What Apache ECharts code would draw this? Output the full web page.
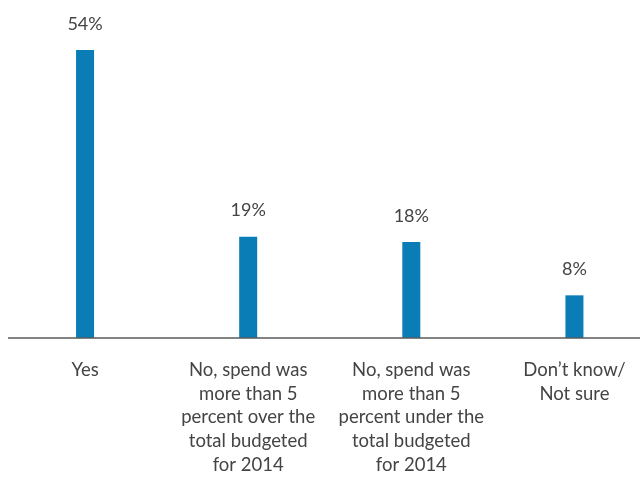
<!DOCTYPE html>
<html>
<head>
<meta charset="utf-8">
<script src="https://cdn.jsdelivr.net/npm/echarts@6/dist/echarts.min.js"></script>
<style>
html,body{margin:0;padding:0;background:#fff;overflow:hidden;}
#chart{width:656px;height:478px;}
</style>
</head>
<body>
<div id="chart"></div>
<script>
// Survey answers and their shares (percent)
var categories = [
  'Yes',
  'No, spend was\nmore than 5\npercent over the\ntotal budgeted\nfor 2014',
  'No, spend was\nmore than 5\npercent under the\ntotal budgeted\nfor 2014',
  'Don\u2019t know/\nNot sure'
];
var shares = [54, 19, 18, 8];

var chart = echarts.init(document.getElementById('chart'));
var font = 'Lato, "Open Sans", sans-serif';
var baselineY = 338;

chart.setOption({
  animation: false,
  grid: { left: 3.5, right: 0, top: 18, bottom: 478 - baselineY },
  xAxis: {
    type: 'category',
    data: categories,
    axisLine: { show: false },
    axisTick: { show: false },
    axisLabel: {
      interval: 0,
      margin: 20,
      color: '#444',
      fontFamily: font,
      fontSize: 18.5,
      lineHeight: 23.7,
      align: 'center'
    }
  },
  yAxis: {
    type: 'value',
    min: 0,
    max: 60,
    show: false,
    splitLine: { show: false }
  },
  series: [{
    type: 'bar',
    data: shares,
    barWidth: 18,
    itemStyle: { color: '#0a7cb6' },
    label: {
      show: true,
      position: 'top',
      distance: 17,
      formatter: '{c}%',
      color: '#444',
      fontFamily: font,
      fontSize: 18
    }
  }],
  // baseline rule running from the left margin to the page edge
  graphic: [{
    type: 'line',
    shape: { x1: 8, y1: baselineY, x2: 656, y2: baselineY },
    style: { stroke: '#5a5a5a', lineWidth: 1.5 },
    z: 10
  }]
});
</script>
</body>
</html>
